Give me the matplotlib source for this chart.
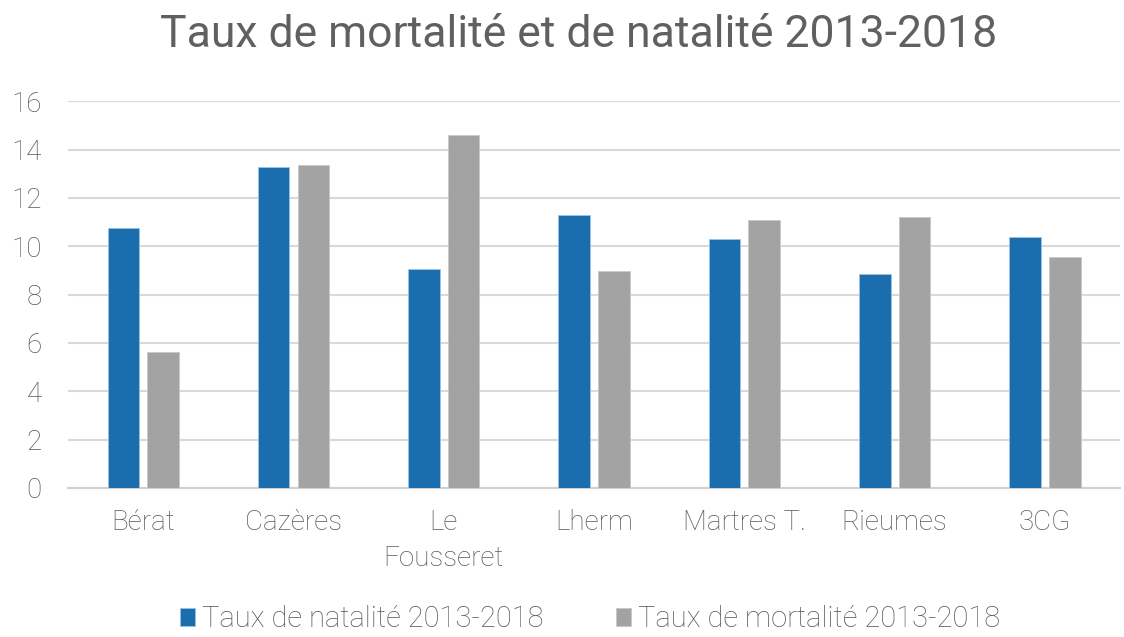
#!/usr/bin/env python3
'''Taux de mortalité et de natalité 2013-2018 - bar chart'''
import numpy as np
import matplotlib
matplotlib.use("Agg")
import matplotlib.pyplot as plt

communes = ["Bérat", "Cazères", "Le\nFousseret", "Lherm", "Martres T.", "Rieumes", "3CG"]
natalite = [10.77, 13.30, 9.06, 11.28, 10.30, 8.86, 10.37]
mortalite = [5.64, 13.37, 14.61, 8.98, 11.09, 11.21, 9.57]
yticks = [0, 2, 4, 6, 8, 10, 12, 14, 16]

BLUE = "#1a6ead"
GREY = "#a3a3a3"
TXT = "#595959"

plt.rcParams['font.family'] = ['Roboto', 'DejaVu Sans']
plt.rcParams['font.weight'] = 'light'

fig = plt.figure(figsize=(11.24, 6.37), dpi=100)
ax = fig.add_axes([0.0605, 0.234, 0.936, 0.607])

x = np.arange(len(communes))
w = 0.21
off = 0.132
ax.bar(x - off, natalite, w, color=BLUE, edgecolor="#9cc3e6", linewidth=0.6,
       label="Taux de natalité 2013-2018", zorder=3)
ax.bar(x + off, mortalite, w, color=GREY, edgecolor="#c8c8c8", linewidth=0.6,
       label="Taux de mortalité 2013-2018", zorder=3)

ax.set_xlim(-0.5, len(communes) - 0.5)
ax.set_ylim(0, 16)
ax.set_yticks(yticks)
ax.yaxis.grid(True, color="#d9d9d9", linewidth=1.5, zorder=0)
ax.set_axisbelow(True)
for s in ("top", "right", "left"):
    ax.spines[s].set_visible(False)
ax.spines["bottom"].set_color("#d0d0d0")
ax.spines["bottom"].set_linewidth(1.5)
ax.tick_params(axis="both", length=0, labelsize=20, labelcolor=TXT)
ax.tick_params(axis="x", pad=15)
ax.tick_params(axis="y", pad=19)
ax.set_xticks(x)
ax.set_xticklabels(communes, linespacing=1.45)

fig.suptitle("Taux de mortalité et de natalité 2013-2018", x=0.515, y=0.978,
             fontsize=32, color="#606060")

fig.legend(loc="lower center", bbox_to_anchor=(0.525, -0.035), ncol=2, frameon=False,
           fontsize=21, labelcolor=TXT, handlelength=0.5, handleheight=0.6,
           handletextpad=0.25, columnspacing=2.5)

fig.savefig("out.png", dpi=100)
